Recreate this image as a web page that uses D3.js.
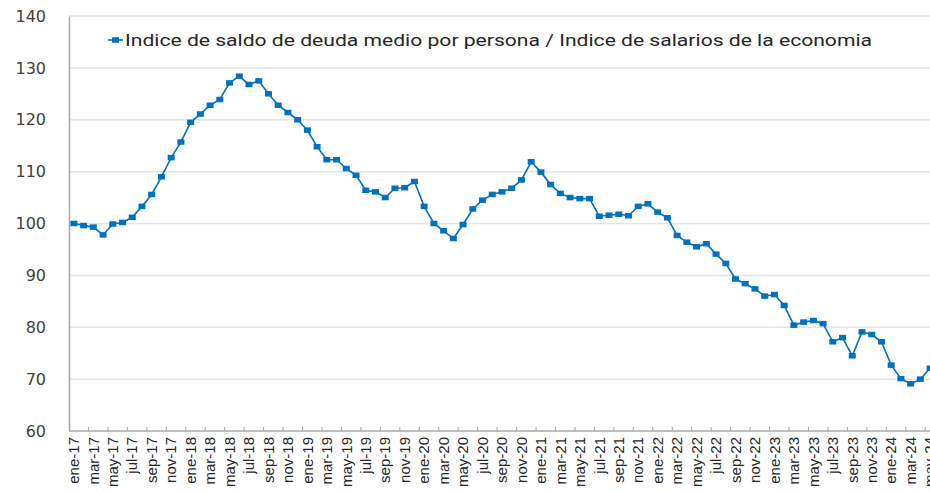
<!DOCTYPE html>
<html>
<head>
<meta charset="utf-8">
<script src="https://cdn.jsdelivr.net/npm/d3@7"></script>
<style>
  body { margin: 0; background: #fff; }
  svg { display: block; }
</style>
</head>
<body>
<div class="canvas"></div>
<script>
// monthly categories ene-17 .. may-24
const meses = ['ene', 'feb', 'mar', 'abr', 'may', 'jun', 'jul', 'ago', 'sep', 'oct', 'nov', 'dic'];
const anios = ['17', '18', '19', '20', '21', '22', '23', '24'];
const categorias = [];
anios.forEach(a => meses.forEach(m => categorias.push(m + '-' + a)));
categorias.splice(89); // hasta may-24

// indice deuda / salarios
const valores = [
  100.0, 99.6, 99.3, 97.8, 99.9, 100.2, 101.2, 103.3, 105.6, 109.0, 112.7, 115.7,
  119.5, 121.1, 122.8, 123.9, 127.1, 128.4, 126.8, 127.5, 125.0, 122.8, 121.4, 120.0,
  118.0, 114.8, 112.3, 112.3, 110.6, 109.3, 106.4, 106.1, 105.0, 106.8, 106.9, 108.1,
  103.3, 100.0, 98.6, 97.1, 99.8, 102.8, 104.5, 105.6, 106.1, 106.8, 108.4, 111.9,
  109.9, 107.5, 105.8, 105.0, 104.8, 104.8, 101.4, 101.6, 101.8, 101.5, 103.3, 103.8,
  102.2, 101.1, 97.7, 96.4, 95.5, 96.1, 94.1, 92.3, 89.3, 88.4, 87.4, 86.0,
  86.3, 84.2, 80.4, 81.0, 81.3, 80.7, 77.2, 78.0, 74.5, 79.1, 78.6, 77.2,
  72.7, 70.1, 69.1, 70.0, 72.1
];

const yTicks = [60, 70, 80, 90, 100, 110, 120, 130, 140];
const leyenda = 'Indice de saldo de deuda medio por persona / Indice de salarios de la economia';

const width = 930, height = 493;
const margin = { top: 16, left: 69, bottom: 62 };
const bandW = 9.73;
const azul = '#0070c0';

const svg = d3.select('.canvas')
  .append('svg')
  .attr('width', width)
  .attr('height', height);

const y = d3.scaleLinear()
  .domain([60, 140])
  .range([height - margin.bottom, margin.top]);

const x = d3.scaleBand()
  .domain(categorias)
  .range([margin.left, margin.left + categorias.length * bandW]);

// gridlines
svg.append('g')
  .selectAll('line')
  .data(yTicks.slice(1))
  .enter().append('line')
  .attr('x1', margin.left)
  .attr('x2', width)
  .attr('y1', d => y(d))
  .attr('y2', d => y(d))
  .attr('stroke', '#e4e4e4')
  .attr('stroke-width', 1.5);

// y axis
const yAxis = d3.axisLeft(y).tickValues(yTicks).tickSize(0).tickPadding(23);
const yAxisGroup = svg.append('g')
  .attr('transform', `translate(${margin.left}, 0)`)
  .call(yAxis);
yAxisGroup.select('.domain').attr('stroke', '#a6a6a6').attr('stroke-width', 1.5);
yAxisGroup.selectAll('text')
  .attr('font-family', 'DejaVu Sans, sans-serif')
  .attr('font-size', 16)
  .attr('fill', '#404040');

// x axis
const xAxisGroup = svg.append('g')
  .attr('transform', `translate(0, ${y(60)})`);
xAxisGroup.append('line')
  .attr('x1', margin.left)
  .attr('x2', width)
  .attr('stroke', '#a6a6a6')
  .attr('stroke-width', 1.5);
xAxisGroup.selectAll('.tk')
  .data(categorias.filter((d, i) => i > 0 && i % 2 === 0))
  .enter().append('line')
  .attr('class', 'tk')
  .attr('x1', d => x(d))
  .attr('x2', d => x(d))
  .attr('y1', 0)
  .attr('y2', -4)
  .attr('stroke', '#a6a6a6');
xAxisGroup.selectAll('text')
  .data(categorias.filter((d, i) => i % 2 === 0))
  .enter().append('text')
  .attr('transform', d => `translate(${x(d) + x.bandwidth() / 2}, 6) rotate(-90)`)
  .attr('dy', '0.35em')
  .attr('text-anchor', 'end')
  .attr('font-family', 'Liberation Sans Narrow, Liberation Sans, Arial, sans-serif')
  .attr('font-size', 15)
  .attr('fill', '#262626')
  .text(d => d);

// line + markers
const linea = d3.line()
  .x((d, i) => x(categorias[i]) + x.bandwidth() / 2)
  .y(d => y(d));

svg.append('path')
  .datum(valores)
  .attr('d', linea)
  .attr('fill', 'none')
  .attr('stroke', azul)
  .attr('stroke-width', 1.6);

svg.append('g')
  .selectAll('rect')
  .data(valores)
  .enter().append('rect')
  .attr('x', (d, i) => x(categorias[i]) + x.bandwidth() / 2 - 3.5)
  .attr('y', d => y(d) - 2.75)
  .attr('width', 7)
  .attr('height', 5.5)
  .attr('fill', azul);

// legend
const leg = svg.append('g').attr('transform', 'translate(108, 40)');
leg.append('line')
  .attr('x1', 0).attr('x2', 15)
  .attr('stroke', azul).attr('stroke-width', 1.6);
leg.append('rect')
  .attr('x', 4).attr('y', -2.75).attr('width', 7).attr('height', 5.5)
  .attr('fill', azul);
leg.append('text')
  .attr('x', 17)
  .attr('dy', '0.35em')
  .attr('font-family', 'Roboto, Arial, sans-serif')
  .attr('font-size', 16)
  .attr('fill', '#262626')
  .attr('textLength', 747)
  .attr('lengthAdjust', 'spacingAndGlyphs')
  .text(leyenda);
</script>
</body>
</html>
